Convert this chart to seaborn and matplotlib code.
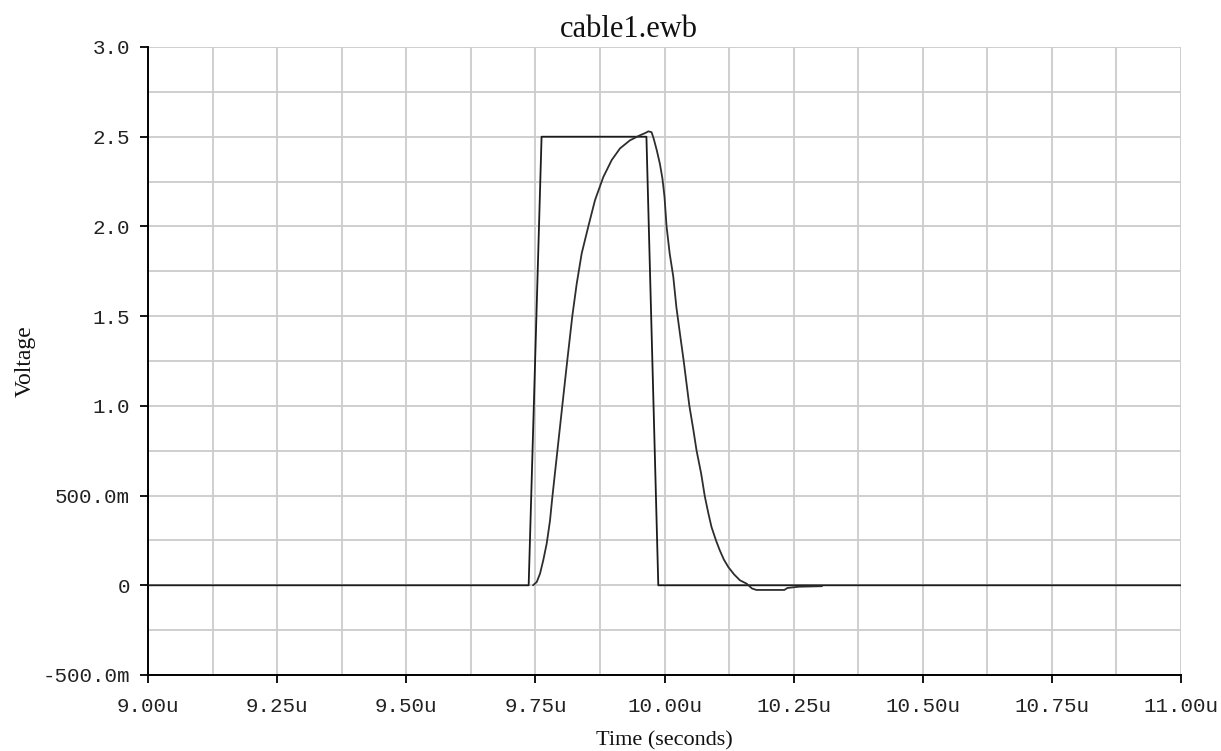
import numpy as np
import pandas as pd
import matplotlib
matplotlib.use("Agg")
import matplotlib.pyplot as plt
from matplotlib.ticker import FixedLocator, MultipleLocator
import seaborn as sns

# Input pulse (time in microseconds, volts)
pulse_t = [9.00, 9.737, 9.762, 9.965, 9.988, 11.00]
pulse_v = [0.0, 0.0, 2.5, 2.5, 0.0, 0.0]

# Cable output response (time in microseconds, volts)
resp_t = [9.7454, 9.7526, 9.759, 9.7653, 9.7719, 9.7783, 9.7828, 9.7913,
          9.8021, 9.8118, 9.8215, 9.8300, 9.8397, 9.8525, 9.8655, 9.8815,
          9.8978, 9.9139, 9.9332, 9.9526, 9.9623, 9.9690, 9.9750, 9.9790,
          9.985, 9.991, 9.996, 10.000, 10.004, 10.010, 10.017, 10.023,
          10.030, 10.037, 10.048, 10.056, 10.062, 10.071, 10.078, 10.085,
          10.091, 10.0997, 10.107, 10.115, 10.1235, 10.1346, 10.146, 10.159,
          10.1695, 10.178, 10.232, 10.238, 10.260, 10.305]
resp_v = [0.0, 0.018, 0.065, 0.14, 0.232, 0.36, 0.49, 0.715,
          1.0, 1.254, 1.5, 1.68, 1.85, 2.0, 2.147, 2.275,
          2.37, 2.435, 2.48, 2.508, 2.52, 2.53, 2.525, 2.49,
          2.425, 2.35, 2.267, 2.165, 2.0, 1.85, 1.72, 1.55,
          1.40, 1.254, 1.003, 0.864, 0.752, 0.622, 0.496, 0.40,
          0.325, 0.25, 0.195, 0.143, 0.102, 0.061, 0.028, 0.009,
          -0.018, -0.026, -0.026, -0.015, -0.008, -0.005]

x_ticks = [9.00, 9.25, 9.50, 9.75, 10.00, 10.25, 10.50, 10.75, 11.00]
x_labels = ["9.00u", "9.25u", "9.50u", "9.75u", "10.00u", "10.25u",
            "10.50u", "10.75u", "11.00u"]
y_ticks = [-0.5, 0.0, 0.5, 1.0, 1.5, 2.0, 2.5, 3.0]
y_labels = ["-500.0m", "0", "500.0m", "1.0", "1.5", "2.0", "2.5", "3.0"]

sns.set_theme(style="white")
serif = ["Liberation Serif", "DejaVu Serif"]
mono = ["Liberation Mono", "DejaVu Sans Mono"]

W, H = 1221, 751
fig = plt.figure(figsize=(W / 100, H / 100), dpi=100)
ax = fig.add_axes([148 / W, 1 - 675 / H, (1181 - 148) / W, (675 - 47) / H])
ax.set_facecolor("white")

pulse_df = pd.DataFrame({"t": pulse_t, "v": pulse_v})
resp_df = pd.DataFrame({"t": resp_t, "v": resp_v})

sns.lineplot(data=pulse_df, x="t", y="v", ax=ax, color="#1c1c1c",
             linewidth=1.3, estimator=None, sort=False, zorder=3)
sns.lineplot(data=resp_df, x="t", y="v", ax=ax, color="#2e2e2e",
             linewidth=1.3, estimator=None, sort=False, zorder=3)

ax.set_xlim(9.0, 11.0)
ax.set_ylim(-0.5, 3.0)

ax.xaxis.set_major_locator(FixedLocator(x_ticks))
ax.yaxis.set_major_locator(FixedLocator(y_ticks))
ax.xaxis.set_minor_locator(MultipleLocator(0.125))
ax.yaxis.set_minor_locator(MultipleLocator(0.25))
ax.set_xticklabels(x_labels, fontfamily=mono, fontsize=15, color="#222222")
ax.set_yticklabels(y_labels, fontfamily=mono, fontsize=15, color="#222222")

ax.grid(True, which="both", color="#cccccc", linewidth=1.3, zorder=0)
ax.set_axisbelow(True)

ax.tick_params(axis="x", which="major", direction="out", length=6,
               width=1.3, color="black", bottom=True, pad=10)
ax.tick_params(axis="y", which="major", direction="out", length=6,
               width=1.3, color="black", left=True, pad=7)
ax.tick_params(axis="both", which="minor", length=0)

for side in ("top", "right"):
    ax.spines[side].set_visible(False)
for side in ("left", "bottom"):
    ax.spines[side].set_visible(True)
    ax.spines[side].set_color("black")
    ax.spines[side].set_linewidth(1.4)

fig.text(629 / W, 1 - 37 / H, "cable1.ewb", fontfamily=serif, fontsize=22,
         color="#111111", ha="center", va="baseline")
ax.set_xlabel("Time (seconds)", fontfamily=serif, fontsize=16, color="#111111", labelpad=11)
ax.set_ylabel("Voltage", fontfamily=serif, fontsize=17, color="#111111", labelpad=5)

fig.savefig("out.png", dpi=100, facecolor="white")
